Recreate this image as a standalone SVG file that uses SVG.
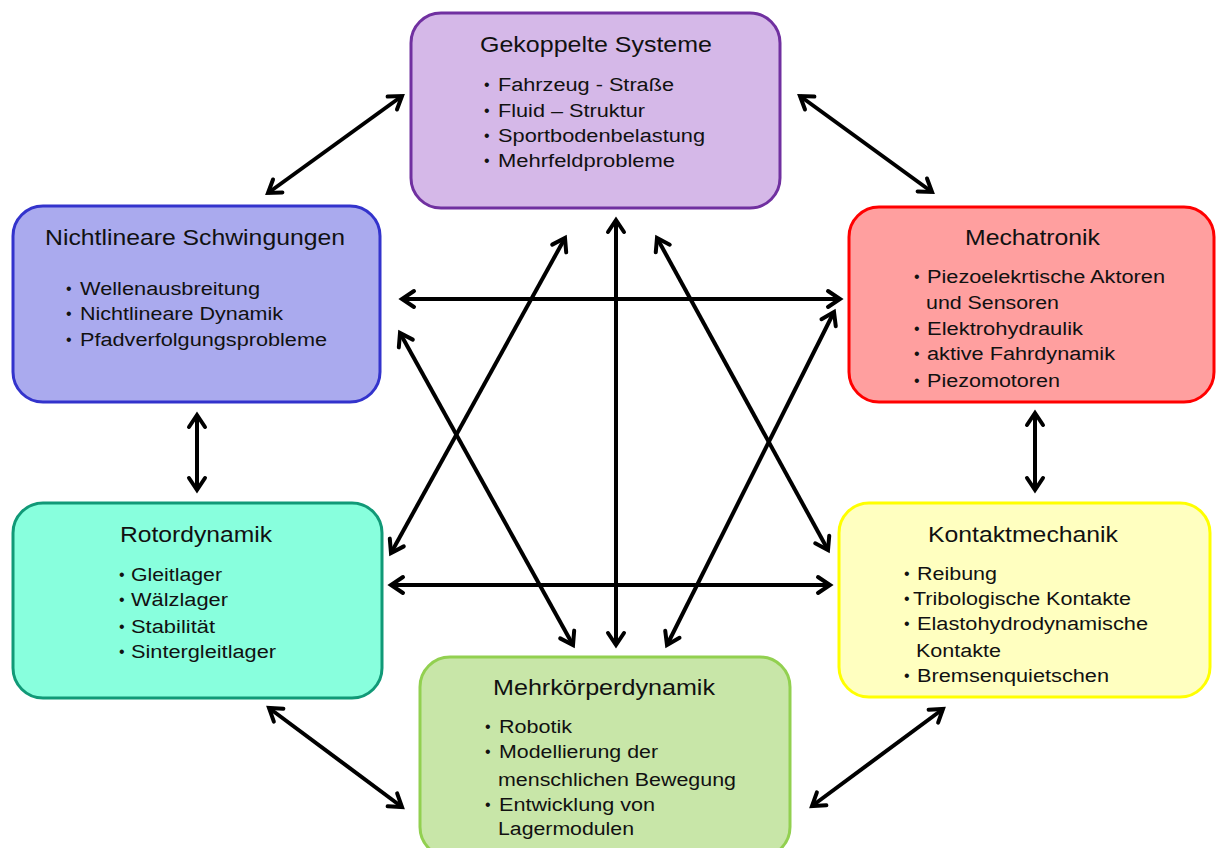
<svg xmlns="http://www.w3.org/2000/svg" width="1216" height="848" viewBox="0 0 1216 848">
<style>
.t{font-family:"Liberation Sans",Arial,sans-serif;font-size:22px;fill:#111}
.i{font-family:"Liberation Sans",Arial,sans-serif;font-size:18px;fill:#111}
.b{font-family:"Liberation Sans",Arial,sans-serif;font-size:16px;fill:#111}
.box{stroke-width:3}
.c{stroke:#000;stroke-width:4;fill:none;marker-start:url(#ah);marker-end:url(#ah)}
</style>
<defs>
<marker id="ah" markerUnits="userSpaceOnUse" markerWidth="24" markerHeight="24" viewBox="0 0 24 24" refX="18" refY="12" orient="auto-start-reverse">
<path d="M6,4 L18,12 L6,20" fill="none" stroke="#000" stroke-width="4" stroke-linejoin="miter" stroke-linecap="round"/>
</marker>
</defs>
<rect width="1216" height="848" fill="#fff"/>
<g id="connectors">
<line class="c" x1="402" y1="96" x2="268" y2="193"/>
<line class="c" x1="800" y1="96" x2="932" y2="192"/>
<line class="c" x1="616" y1="220" x2="616" y2="645"/>
<line class="c" x1="402" y1="299" x2="840" y2="299"/>
<line class="c" x1="197" y1="415" x2="197" y2="490"/>
<line class="c" x1="1035" y1="413" x2="1035" y2="490"/>
<line class="c" x1="391" y1="585" x2="830" y2="585"/>
<line class="c" x1="269" y1="708" x2="402" y2="807"/>
<line class="c" x1="943" y1="709" x2="812" y2="806"/>
<line class="c" x1="565" y1="238" x2="391" y2="553"/>
<line class="c" x1="400" y1="333" x2="573" y2="645"/>
<line class="c" x1="657" y1="238" x2="828" y2="550"/>
<line class="c" x1="834" y1="312" x2="667" y2="645"/>
</g>
<g id="gekoppelte">
<rect class="box" x="411" y="13" width="369" height="195" rx="30" fill="#D5B8E8" stroke="#7030A0"/>
<text class="t" x="480" y="52" textLength="232" lengthAdjust="spacingAndGlyphs">Gekoppelte Systeme</text>
<text class="b" x="484" y="90">•</text><text class="i" x="498" y="91" textLength="176" lengthAdjust="spacingAndGlyphs">Fahrzeug - Straße</text>
<text class="b" x="484" y="116">•</text><text class="i" x="498" y="117" textLength="147" lengthAdjust="spacingAndGlyphs">Fluid – Struktur</text>
<text class="b" x="484" y="141">•</text><text class="i" x="498" y="142" textLength="207" lengthAdjust="spacingAndGlyphs">Sportbodenbelastung</text>
<text class="b" x="484" y="166">•</text><text class="i" x="498" y="167" textLength="177" lengthAdjust="spacingAndGlyphs">Mehrfeldprobleme</text>
</g>
<g id="nichtlineare">
<rect class="box" x="13" y="206" width="367" height="196" rx="30" fill="#AAAAEE" stroke="#3333CC"/>
<text class="t" x="45" y="245" textLength="300" lengthAdjust="spacingAndGlyphs">Nichtlineare Schwingungen</text>
<text class="b" x="66" y="294">•</text><text class="i" x="80" y="295" textLength="180" lengthAdjust="spacingAndGlyphs">Wellenausbreitung</text>
<text class="b" x="66" y="319">•</text><text class="i" x="80" y="320" textLength="203" lengthAdjust="spacingAndGlyphs">Nichtlineare Dynamik</text>
<text class="b" x="66" y="345">•</text><text class="i" x="80" y="346" textLength="247" lengthAdjust="spacingAndGlyphs">Pfadverfolgungsprobleme</text>
</g>
<g id="mechatronik">
<rect class="box" x="849" y="207" width="365" height="195" rx="30" fill="#FF9F9F" stroke="#FF0000"/>
<text class="t" x="965" y="245" textLength="135" lengthAdjust="spacingAndGlyphs">Mechatronik</text>
<text class="b" x="914" y="282">•</text><text class="i" x="927" y="283" textLength="238" lengthAdjust="spacingAndGlyphs">Piezoelekrtische Aktoren</text>
<text class="i" x="926" y="309" textLength="133" lengthAdjust="spacingAndGlyphs">und Sensoren</text>
<text class="b" x="914" y="334">•</text><text class="i" x="927" y="335" textLength="156" lengthAdjust="spacingAndGlyphs">Elektrohydraulik</text>
<text class="b" x="914" y="359">•</text><text class="i" x="927" y="360" textLength="188" lengthAdjust="spacingAndGlyphs">aktive Fahrdynamik</text>
<text class="b" x="914" y="386">•</text><text class="i" x="927" y="387" textLength="133" lengthAdjust="spacingAndGlyphs">Piezomotoren</text>
</g>
<g id="rotordynamik">
<rect class="box" x="13" y="503" width="369" height="195" rx="30" fill="#88FFDD" stroke="#119977"/>
<text class="t" x="120" y="542" textLength="152" lengthAdjust="spacingAndGlyphs">Rotordynamik</text>
<text class="b" x="119" y="580">•</text><text class="i" x="131" y="581" textLength="91" lengthAdjust="spacingAndGlyphs">Gleitlager</text>
<text class="b" x="119" y="605">•</text><text class="i" x="131" y="606" textLength="97" lengthAdjust="spacingAndGlyphs">Wälzlager</text>
<text class="b" x="119" y="632">•</text><text class="i" x="131" y="633" textLength="84" lengthAdjust="spacingAndGlyphs">Stabilität</text>
<text class="b" x="119" y="657">•</text><text class="i" x="131" y="658" textLength="145" lengthAdjust="spacingAndGlyphs">Sintergleitlager</text>
</g>
<g id="kontaktmechanik">
<rect class="box" x="839" y="503" width="371" height="194" rx="30" fill="#FFFFC0" stroke="#FFFF00"/>
<text class="t" x="928" y="542" textLength="190" lengthAdjust="spacingAndGlyphs">Kontaktmechanik</text>
<text class="b" x="904" y="579">•</text><text class="i" x="917" y="580" textLength="80" lengthAdjust="spacingAndGlyphs">Reibung</text>
<text class="b" x="904" y="604">•</text><text class="i" x="913" y="605" textLength="218" lengthAdjust="spacingAndGlyphs">Tribologische Kontakte</text>
<text class="b" x="904" y="629">•</text><text class="i" x="917" y="630" textLength="231" lengthAdjust="spacingAndGlyphs">Elastohydrodynamische</text>
<text class="i" x="916" y="657" textLength="85" lengthAdjust="spacingAndGlyphs">Kontakte</text>
<text class="b" x="904" y="681">•</text><text class="i" x="917" y="682" textLength="192" lengthAdjust="spacingAndGlyphs">Bremsenquietschen</text>
</g>
<g id="mehrkoerperdynamik">
<rect class="box" x="420" y="657" width="370" height="200" rx="30" fill="#C8E6A8" stroke="#92D050"/>
<text class="t" x="493" y="695" textLength="222" lengthAdjust="spacingAndGlyphs">Mehrkörperdynamik</text>
<text class="b" x="485" y="732">•</text><text class="i" x="499" y="733" textLength="73" lengthAdjust="spacingAndGlyphs">Robotik</text>
<text class="b" x="485" y="757">•</text><text class="i" x="499" y="758" textLength="159" lengthAdjust="spacingAndGlyphs">Modellierung der</text>
<text class="i" x="498" y="786" textLength="238" lengthAdjust="spacingAndGlyphs">menschlichen Bewegung</text>
<text class="b" x="485" y="810">•</text><text class="i" x="499" y="811" textLength="156" lengthAdjust="spacingAndGlyphs">Entwicklung von</text>
<text class="i" x="498" y="835" textLength="136" lengthAdjust="spacingAndGlyphs">Lagermodulen</text>
</g>
</svg>
